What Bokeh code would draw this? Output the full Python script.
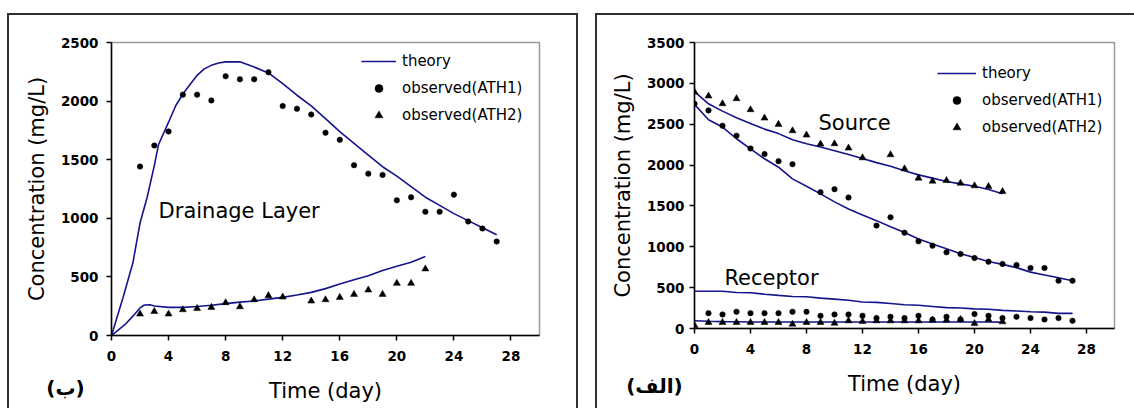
from bokeh.plotting import figure
from bokeh.models import Range1d, FixedTicker, Legend, LegendItem, Label
from bokeh.layouts import row
from bokeh.embed import file_html
from bokeh.resources import INLINE

# ---------------- data: panel (ب) Drainage Layer ----------------
drain_theory_hi_t = [0, 0.8, 1.5, 2, 2.5, 3, 3.3, 4, 4.5, 5, 6, 6.5, 7, 7.5, 8, 9, 10, 11, 12, 13, 14,
                     15, 16, 17, 18, 19, 20, 21, 22, 23, 24, 25, 26, 27]
drain_theory_hi = [0, 320, 620, 960, 1180, 1450, 1630, 1820, 1960, 2060, 2220, 2275, 2305, 2325, 2335,
                   2335, 2290, 2240, 2150, 2050, 1960, 1850, 1740, 1640, 1540, 1440, 1360, 1270, 1180,
                   1110, 1040, 980, 920, 860]
drain_theory_lo_t = [0, 1, 1.5, 2, 2.3, 2.7, 3, 4, 5, 6, 7, 8, 9, 10, 11, 12, 13, 14, 15, 16, 17, 18,
                     19, 20, 21, 22]
drain_theory_lo = [0, 100, 165, 235, 260, 262, 252, 240, 240, 247, 258, 272, 285, 295, 310, 325, 345,
                   368, 400, 440, 475, 510, 555, 590, 625, 675]
drain_ath1_t = list(range(2, 28))
drain_ath1 = [1441, 1621, 1741, 2055, 2055, 2006, 2212, 2186, 2186, 2246, 1958, 1935, 1886, 1730, 1670,
              1453, 1381, 1370, 1153, 1179, 1056, 1056, 1202, 973, 913, 802]
drain_ath2_t = [2, 3, 4, 5, 6, 7, 8, 9, 10, 11, 12, 14, 15, 16, 17, 18, 19, 20, 21, 22]
drain_ath2 = [183, 205, 183, 220, 231, 240, 280, 245, 305, 340, 328, 294, 305, 325, 351, 388, 351, 445,
              445, 568]

# ---------------- data: panel (الف) Source / Receptor ----------------
src2_theory_t = list(range(0, 23))
src2_theory = [2900, 2750, 2660, 2580, 2510, 2440, 2385, 2310, 2260, 2220, 2175, 2130, 2080, 2030, 1985,
               1930, 1880, 1840, 1800, 1770, 1740, 1700, 1650]
src1_theory_t = list(range(0, 28))
src1_theory = [2743, 2555, 2465, 2322, 2199, 2077, 1974, 1831, 1740, 1647, 1550, 1463, 1390, 1320, 1245,
               1175, 1095, 1034, 975, 915, 870, 820, 785, 745, 690, 655, 620, 585]
rec1_theory_t = list(range(0, 28))
rec1_theory = [455, 455, 455, 440, 438, 420, 405, 392, 388, 372, 360, 345, 325, 320, 305, 290, 285, 270,
               255, 250, 240, 235, 222, 215, 205, 200, 185, 185]
rec2_theory_t = list(range(0, 23))
rec2_theory = [95, 88, 84, 82, 80, 80, 80, 80, 80, 80, 80, 80, 80, 80, 80, 80, 80, 80, 80, 80, 80, 80, 78]

src2_obs_t = [0, 1, 2, 3, 4, 5, 6, 7, 8, 9, 10, 11, 12, 14, 15, 16, 17, 18, 19, 20, 21, 22]
src2_obs = [2894, 2845, 2751, 2813, 2678, 2575, 2498, 2420, 2367, 2257, 2261, 2208, 2089, 2126, 1954,
            1840, 1803, 1811, 1778, 1746, 1737, 1676]
src1_obs_t = [0, 1, 2, 3, 4, 5, 6, 7, 9, 10, 11, 13, 14, 15, 16, 17, 18, 19, 20, 21, 22, 23, 24, 25,
              26, 27]
src1_obs = [2751, 2669, 2481, 2359, 2203, 2134, 2048, 2011, 1668, 1705, 1602, 1259, 1361, 1173, 1067,
            1014, 932, 912, 863, 818, 789, 777, 740, 740, 585, 585]
rec1_obs_t = list(range(1, 28))
rec1_obs = [188, 172, 204, 188, 188, 188, 204, 204, 155, 172, 172, 155, 127, 143, 127, 155, 110, 143,
            110, 176, 155, 127, 143, 127, 110, 127, 94]
rec2_obs_t = list(range(0, 23))
rec2_obs = [37, 74, 74, 74, 74, 74, 74, 53, 74, 74, 65, 94, 86, 94, 94, 94, 94, 102, 102, 110, 61, 110, 82]

x_ticks = [0, 4, 8, 12, 16, 20, 24, 28]
y_ticks_drain = [0, 500, 1000, 1500, 2000, 2500]
y_ticks_src = [0, 500, 1000, 1500, 2000, 2500, 3000, 3500]

FONT = "DejaVu Sans"
LINE_COLOR = "#14148c"
BOX = "#303030"


def make_fig(width, height, left, right, top, bottom, ymax, yticks, ystand, panel_bg):
    p = figure(width=width, height=height, output_backend="svg", toolbar_location=None,
               x_range=Range1d(0, 30), y_range=Range1d(0, ymax))
    if "frame_align" in p.properties():
        p.frame_align = False
    p.min_border_left = left
    p.min_border_right = right
    p.min_border_top = top
    p.min_border_bottom = bottom
    p.background_fill_color = "white"
    p.border_fill_color = None
    p.styles = {"background": panel_bg}
    p.outline_line_color = "#9a9a9a"
    p.outline_line_width = 1.5
    p.xgrid.visible = False
    p.ygrid.visible = False
    p.xaxis.ticker = FixedTicker(ticks=x_ticks)
    p.yaxis.ticker = FixedTicker(ticks=yticks)
    for ax in (p.xaxis[0], p.yaxis[0]):
        ax.axis_line_color = "black"
        ax.axis_line_width = 1.5
        ax.major_tick_line_color = "black"
        ax.major_tick_line_width = 1.5
        ax.major_tick_out = 5
        ax.major_tick_in = 0
        ax.minor_tick_line_color = None
        ax.major_label_text_font = FONT
        ax.major_label_text_font_style = "bold"
        ax.major_label_text_font_size = "13.5px"
        ax.major_label_text_color = "black"
        ax.axis_label_text_font = FONT
        ax.axis_label_text_font_style = "normal"
        ax.axis_label_text_font_size = "21px"
        ax.axis_label_text_color = "black"
    p.xaxis.axis_label_standoff = 15
    p.yaxis.axis_label_standoff = 9
    p.xaxis.major_label_standoff = 10
    p.yaxis.major_label_standoff = ystand
    p.xaxis.axis_label = "Time (day)"
    p.yaxis.axis_label = "Concentration (mg/L)"
    return p


def add_legend(p, line_r, c_r, t_r, x, y, gw):
    legend = Legend(items=[LegendItem(label="theory", renderers=[line_r]),
                           LegendItem(label="observed(ATH1)", renderers=[c_r]),
                           LegendItem(label="observed(ATH2)", renderers=[t_r])],
                    location=(x, y))
    legend.glyph_width = gw
    legend.glyph_height = 20
    legend.label_height = 20
    legend.spacing = 7
    legend.padding = 0
    legend.margin = 0
    legend.label_standoff = 6
    legend.border_line_alpha = 0
    legend.background_fill_alpha = 0
    legend.label_text_font = FONT
    legend.label_text_font_size = "15px"
    legend.label_text_color = "black"
    p.add_layout(legend)


def seg(x, y, w, h):
    return f"linear-gradient({BOX},{BOX}) {x}px {y}px / {w}px {h}px no-repeat"


# ---------------- left panel ----------------
bgL = ", ".join([seg(7, 13, 571, 2), seg(7, 13, 2, 420), seg(576, 13, 2, 420)]) + ", white"
pL = make_fig(594, 408, 111, 55, 42, 73, 2500, y_ticks_drain, 8, bgL)
l1 = pL.line(drain_theory_hi_t, drain_theory_hi, line_color=LINE_COLOR, line_width=1.6)
pL.line(drain_theory_lo_t, drain_theory_lo, line_color=LINE_COLOR, line_width=1.6)
c1 = pL.scatter(drain_ath1_t, drain_ath1, marker="circle", size=5.5, fill_color="black",
                line_color="black", line_width=0.5)
t1 = pL.scatter(drain_ath2_t, drain_ath2, marker="triangle", size=7, fill_color="black",
                line_color="black", line_width=0.5)
add_legend(pL, l1, c1, t1, 250, 210, 35)
pL.add_layout(Label(x=3.3, y=1064, text="Drainage Layer", text_font=FONT, text_font_size="21px",
                    text_baseline="middle", text_align="left", text_color="black"))
pL.add_layout(Label(x=-3.22, y=-444, text="(ب)", text_font=FONT, text_font_size="20px",
                    text_font_style="bold", text_align="center", text_baseline="middle",
                    text_color="black"), "above")

# ---------------- right panel ----------------
bgR = ", ".join([seg(1, 13, 600, 2), seg(1, 13, 2, 420)]) + ", white"
pR = make_fig(540, 408, 100, 20, 42, 80, 3500, y_ticks_src, 5, bgR)
l2 = pR.line(src2_theory_t, src2_theory, line_color=LINE_COLOR, line_width=1.6)
pR.line(src1_theory_t, src1_theory, line_color=LINE_COLOR, line_width=1.6)
pR.line(rec1_theory_t, rec1_theory, line_color=LINE_COLOR, line_width=1.6)
pR.line(rec2_theory_t, rec2_theory, line_color=LINE_COLOR, line_width=1.6)
c2 = pR.scatter(src1_obs_t, src1_obs, marker="circle", size=5.5, fill_color="black",
                line_color="black", line_width=0.5)
pR.scatter(rec1_obs_t, rec1_obs, marker="circle", size=5.5, fill_color="black",
           line_color="black", line_width=0.5)
t2 = pR.scatter(src2_obs_t, src2_obs, marker="triangle", size=7, fill_color="black",
                line_color="black", line_width=0.5)
pR.scatter(rec2_obs_t, rec2_obs, marker="triangle", size=7, fill_color="black",
           line_color="black", line_width=0.5)
add_legend(pR, l2, c2, t2, 243, 191, 39)
pR.add_layout(Label(x=8.86, y=2510, text="Source", text_font=FONT, text_font_size="21px",
                    text_baseline="middle", text_align="left", text_color="black"))
pR.add_layout(Label(x=2.14, y=620, text="Receptor", text_font=FONT, text_font_size="21px",
                    text_baseline="middle", text_align="left", text_color="black"))
pR.add_layout(Label(x=-2.86, y=-698, text="(الف)", text_font=FONT, text_font_size="20px",
                    text_font_style="bold", text_align="center", text_baseline="middle",
                    text_color="black"), "above")

layout = row(pL, pR)
open("out.html", "w").write(file_html(layout, INLINE))
